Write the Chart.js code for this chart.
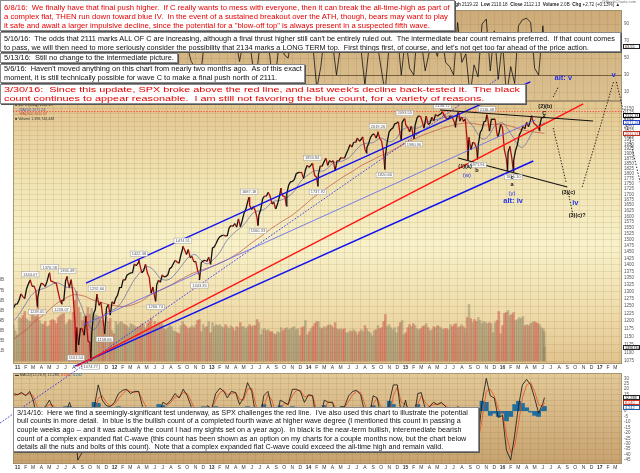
<!DOCTYPE html>
<html><head><meta charset="utf-8">
<title>$SPX daily with wave counts</title>
<script src="https://cdn.jsdelivr.net/npm/chart.js@4.4.1/dist/chart.umd.min.js"></script>
<style>
html,body{margin:0;padding:0;width:640px;height:473px;overflow:hidden;background:#fff;font-family:"Liberation Sans",Arial,sans-serif;}
canvas{position:absolute;left:0;top:0;width:640px;height:473px;}
.box{position:absolute;background:#fff;border:1px solid #8a8a8a;box-shadow:1px 1px 0 #555;box-sizing:border-box;padding:0 3px;overflow:hidden;color:#111;font-size:7px;}
.box .ln{white-space:pre;overflow:visible;}
.box .ln span{display:inline-block;vertical-align:top;transform-origin:0 50%;}
.red{color:#e40000;}
.tiny{position:absolute;white-space:pre;color:#333;line-height:1;}
.tag{position:absolute;left:623px;width:17px;height:5px;box-sizing:border-box;background:#fff;font-size:3.8px;line-height:4px;padding-left:1px;white-space:nowrap;overflow:hidden;border:0.6px solid #222;}
</style></head>
<body>
<canvas id="cRsi" width="640" height="473"></canvas>
<canvas id="cMacd" width="640" height="473"></canvas>
<canvas id="cPrice" width="640" height="473"></canvas>

<div class="tiny" style="right:4px;top:0px;font-size:4px;color:#777;">@StockCharts.com</div>
<div class="tiny" style="right:20px;top:3px;font-size:4.6px;color:#222;"><b>$SPX</b> S&amp;P 500 Large Cap Index  INDX   7-Jun-2016   <b>Open</b> 2110.18  <b>High</b> 2119.22  <b>Low</b> 2110.18  <b>Close</b> 2112.13  <b>Volume</b> 2.0B  <b>Chg</b> +2.72 (+0.13%) ▲</div>

<div class="tiny" style="left:15px;top:104.4px;font-size:3.6px;color:#222;">■ $SPX (Daily) 2112.13</div>
<div class="tiny" style="left:15px;top:108.8px;font-size:3.6px;color:#4a58a8;">— MA(50) 2071.24</div>
<div class="tiny" style="left:15px;top:113.3px;font-size:3.6px;color:#b84434;">— MA(200) 2011.57</div>
<div class="tiny" style="left:15px;top:117.8px;font-size:3.6px;color:#333;">■ Volume 1,396,744,448</div>
<div class="tiny" style="left:15px;top:374.2px;font-size:3.8px;color:#333;">▬ MACD(12,26,9) 12.283, <span style="color:#e04020">8.040</span>, <span style="color:#3070a0">4.242</span></div>

<div class="tag" style="top:43.6px;color:#222;">63.55</div>
<div class="tag" style="top:113px;color:#000;border-color:#000;">2112.13</div>
<div class="tag" style="top:120px;color:#2040c0;border-color:#2040c0;">2071.24</div>
<div class="tag" style="top:130.5px;color:#c03020;border-color:#c03020;">2011.57</div>
<div class="tag" style="top:345px;color:#000;">1396744448</div>
<div class="tag" style="top:395px;color:#000;">12.283</div>
<div class="tag" style="top:400px;color:#d03020;border-color:#d03020;">8.040</div>
<div class="tag" style="top:405px;color:#2060a0;border-color:#2060a0;">4.242</div>

<div class="box red" data-tw="446" style="left:0;top:0;width:455px;height:31px;padding-top:1.5px;line-height:9px;">
<div class="ln"><span>6/8/16:  We finally have that final push higher.  If C really wants to mess with everyone, then it can break the all-time-high as part of</span></div>
<div class="ln"><span>a complex flat, THEN run down toward blue IV.  In the event of a sustained breakout over the ATH, though, bears may want to play</span></div>
<div class="ln"><span>it safe and await a larger impulsive decline, since the potential for a "blow-off top" is always present in a suspected fifth wave.</span></div>
</div>
<div class="box" data-tw="612" style="left:0;top:32px;width:621px;height:20px;padding-top:0.5px;line-height:9px;">
<div class="ln"><span>5/16/16:  The odds that 2111 marks ALL OF C are increasing, although a final thrust higher still can't be entirely ruled out.  The intermediate bear count remains preferred.  If that count comes</span></div>
<div class="ln"><span>to pass, we will then need to more seriously consider the possibility that 2134 marks a LONG TERM top.  First things first, of course, and let's not get too far ahead of the price action.</span></div>
</div>
<div class="box" data-tw="170" style="left:0;top:53px;width:178px;height:10px;line-height:8.5px;">
<div class="ln"><span>5/13/16:  Still no change to the intermediate picture.</span></div>
</div>
<div class="box" data-tw="298" style="left:0;top:64px;width:305px;height:19px;line-height:8.7px;">
<div class="ln"><span>5/6/16:  Haven't moved anything on this chart from nearly two months ago.  As of this exact</span></div>
<div class="ln"><span>moment, it is still technically possible for wave C to make a final push north of 2111.</span></div>
</div>
<div class="box red" data-tw="516" data-fs="7.0" style="left:0;top:84px;width:526px;height:20px;padding-top:0.3px;line-height:9px;">
<div class="ln"><span>3/30/16:  Since this update, SPX broke above the red line, and last week's decline back-tested it.  The black</span></div>
<div class="ln"><span>count continues to appear reasonable.  I am still not favoring the blue count, for a variety of reasons.</span></div>
</div>
<div class="box" data-tw="452" style="left:13px;top:407px;width:466px;height:45px;padding-top:0.5px;line-height:8.7px;">
<div class="ln"><span>3/14/16:  Here we find a seemingly-significant test underway, as SPX challenges the red line.  I've also used this chart to illustrate the potential</span></div>
<div class="ln"><span>bull counts in more detail.  In blue is the bullish count of a completed fourth wave at higher wave degree (I mentioned this count in passing a</span></div>
<div class="ln"><span>couple weeks ago -- and it was actually the count I had my sights set on a year ago).  In black is the near-term bullish, interemediate bearish</span></div>
<div class="ln"><span>count of a complex expanded flat C-wave (this count has been shown as an option on my charts for a couple months now, but the chart below</span></div>
<div class="ln"><span>details all the nuts and bolts of this count).  Note that a complex expanded flat C-wave could exceed the all-time high and remain valid.</span></div>
</div>

<script>
// ---------------- DATA ----------------
const WEEK_START = '2010-12-17';           // weekly closes, one per Friday
const CLOSE_2010 = [1243.9, 1256.8, 1257.6];
const CLOSE_2011 = [1271.5,1293.2,1283.4,1276.3, 1310.9,1329.2,1343.0,1320.0, 1321.2,1304.3,1279.2,1313.8,
  1332.4,1328.2,1319.7,1337.4,1363.6, 1340.2,1337.8,1333.3,1331.1, 1300.2,1270.9,1271.5,1268.5,
  1339.7,1344.0,1316.1,1345.0,1292.3, 1199.4,1178.8,1123.5,1176.8, 1173.9,1154.2,1216.0,1136.4,1131.4,
  1155.5,1224.6,1238.3,1285.1, 1253.2,1263.9,1215.7,1158.7, 1244.3,1255.2,1219.7,1265.3,1257.6];
const CLOSE_2012 = [1277.8,1289.1,1315.4,1316.3, 1344.9,1342.6,1361.2,1365.7, 1369.6,1370.9,1404.2,1397.1,1408.5,
  1398.1,1370.3,1378.5,1403.4, 1369.1,1353.4,1295.2,1317.8, 1278.0,1325.7,1342.8,1335.0,1362.2,
  1354.7,1356.8,1362.7,1385.9, 1391.0,1405.9,1418.2,1411.1,1406.6, 1437.9,1465.8,1460.2,1440.7,
  1460.9,1428.6,1433.2,1411.9, 1414.2,1379.9,1359.9,1409.2,1416.2, 1418.1,1413.6,1430.2,1402.4];
const CLOSE_2013 = [1466.5,1472.1,1486.0,1503.0, 1513.2,1517.9,1519.8,1515.6, 1518.2,1551.2,1560.7,1556.9,1569.2,
  1553.3,1588.9,1555.3,1582.2, 1614.4,1633.7,1667.5,1649.6,1630.7, 1643.4,1626.7,1592.4,1606.3,
  1631.9,1680.2,1692.1,1691.7, 1709.7,1691.4,1655.8,1663.5,1633.0, 1655.2,1688.0,1709.9,1691.8,
  1690.5,1703.2,1744.5,1759.8, 1761.6,1770.6,1798.2,1804.8,1805.8, 1805.1,1775.3,1818.3,1841.4];
const CLOSE_2014 = [1831.4,1842.4,1838.7,1790.3,1782.6, 1797.0,1838.6,1836.3,1859.5, 1878.0,1841.1,1866.5,1857.6,
  1865.1,1815.7,1864.9,1863.4, 1881.1,1878.5,1877.9,1900.5,1923.6, 1949.4,1936.2,1962.9,1961.0,
  1985.4,1967.6,1978.2,1978.3, 1925.2,1931.6,1955.1,1988.4,2003.4, 2007.7,1985.5,2010.4,1982.9,
  1967.9,1906.1,1886.8,1964.6,2018.1, 2031.9,2039.8,2063.5,2067.6, 2075.4,2002.3,2070.7,2088.8];
const CLOSE_2015 = [2058.2,2044.8,2019.4,2051.8,1995.0, 2055.5,2097.0,2110.3,2104.5, 2071.3,2053.4,2108.1,2061.0,
  2067.0,2102.1,2081.2,2117.7, 2108.3,2116.1,2122.7,2126.1,2107.4, 2092.8,2094.1,2110.0,2101.5,
  2076.8,2076.6,2126.6,2079.7,2103.8, 2077.6,2091.5,1970.9,1988.9, 1921.2,1961.1,1958.0,1931.3,
  1951.4,2014.9,2033.1,2075.2,2079.4, 2099.2,2023.0,2089.2,2090.1, 2091.7,2012.4,2005.6,2061.0];
const CLOSE_2016 = [2043.9,1922.0,1880.3,1906.9,1940.2, 1880.1,1864.8,1917.8,1948.1, 2000.0,2022.2,2049.6,2035.9,
  2072.8,2047.6,2080.7,2091.6,2065.3, 2057.1,2046.6,2052.3,2099.1, 2099.1];
const LAST_DAYS = ['2016-06-06','2016-06-07'];
const LAST_CLOSES = [2109.4, 2112.13];
const LAST_VOLUMES = [2.9, 1.4];

// intraday extremes (highs / lows) marked on the chart
const EXTREME_DATES = ['2011-02-18','2011-03-16','2011-05-02','2011-06-16','2011-07-07','2011-08-09','2011-10-04',
  '2011-10-27','2011-11-25','2012-04-02','2012-06-04','2012-09-14','2012-11-16','2013-05-22','2013-06-24',
  '2013-09-19','2013-10-09','2014-01-15','2014-02-05','2014-04-11','2014-07-24','2014-08-07','2014-09-19',
  '2014-10-15','2014-12-16','2014-12-29','2015-02-02','2015-03-11','2015-05-20','2015-07-08','2015-07-20',
  '2015-08-24','2015-09-29','2015-11-03','2015-12-14','2016-01-20','2016-02-11','2016-04-20','2016-05-19'];
const EXTREME_VALUES = [1344.07,1249.05,1370.58,1258.07,1356.48,1101.54,1074.77,
  1292.66,1158.66,1422.38,1266.74,1474.51,1343.35,1687.18,1560.33,
  1729.86,1646.47,1850.84,1737.92,1814.36,1991.39,1904.78,2019.26,
  1820.66,1972.56,2093.55,1980.90,2039.69,2134.72,2044.02,2132.82,
  1867.01,1871.91,2116.48,1993.26,1812.29,1810.10,2111.05,2025.91];

// labelled price points
const NOTE_DATES = ['2011-02-18','2011-05-02','2011-07-07','2011-10-27','2012-04-02','2012-09-14','2013-05-22',
  '2014-01-15','2014-09-19','2014-12-29','2015-05-20','2015-11-03',
  '2011-03-16','2011-06-16','2011-08-09','2011-10-04','2011-11-25','2012-06-04','2012-11-16','2013-06-24',
  '2014-02-05','2014-10-15','2015-02-02','2015-09-29','2016-02-11'];
const NOTE_VALUES = [1344.07,1370.58,1356.48,1292.66,1422.38,1474.51,1687.18,
  1850.84,2019.26,2093.55,2134.72,2116.48,
  1249.05,1258.07,1101.54,1074.77,1158.66,1266.74,1343.35,1560.33,
  1737.92,1820.66,1980.90,1871.91,1810.10];
const NOTE_SIDE = ['up','up','up','up','up','up','up','up','up','up','up','up',
  'dn','dn','dn','dn','dn','dn','dn','dn','dn','dn','dn','dn','dn'];

// weekly average daily volume (billions of shares)
const VOL_2010 = [3.6,3.0,2.6];
const VOL_2011 = [4.3,4.2,4.5,4.9, 4.2,4.0,3.9,4.6, 4.5,4.4,5.3,4.0, 3.7,3.6,3.9,3.4,3.5, 4.0,4.1,4.0,3.7,
  4.3,4.5,4.6,4.7, 3.6,3.8,4.1,4.0,4.8, 6.0,6.9,5.3,4.8, 4.0,4.4,4.6,5.3,4.6, 5.2,4.4,4.6,4.5,
  4.4,4.0,4.0,3.2, 4.3,3.9,4.2,3.0,2.7];
const VOL_2012 = [3.9,3.6,3.8,3.9, 3.7,3.6,3.5,3.3, 3.7,3.6,3.5,3.3,3.4, 3.4,3.7,3.6,3.3, 3.7,3.9,4.2,3.3,
  3.9,3.6,3.8,3.6,3.7, 3.2,3.1,3.3,3.5, 3.4,3.0,2.9,2.8,2.7, 3.5,3.9,3.6,3.4, 3.2,3.3,3.5,3.3,
  3.6,4.0,4.1,2.9,3.6, 3.3,3.4,3.9,2.8];
const VOL_2013 = [3.8,3.4,3.6,3.5, 3.6,3.4,3.3,3.6, 3.4,3.2,3.5,3.3,3.0, 3.4,3.3,3.8,3.4, 3.4,3.2,3.4,3.6,3.4,
  3.5,3.5,4.1,3.8, 2.6,3.1,3.2,3.0, 3.1,2.9,2.9,2.7,2.6, 2.9,2.8,3.3,3.0, 3.2,3.3,3.1,3.2,
  3.3,3.4,3.1,3.2,2.5, 3.3,3.4,4.0,2.6];
const VOL_2014 = [2.9,3.2,3.4,3.7,3.9, 3.9,3.3,3.2,3.4, 3.3,3.5,3.6,3.5, 3.3,3.8,3.2,3.1, 3.2,3.1,3.2,2.8,2.8,
  3.0,2.9,3.1,2.9, 2.6,2.9,3.1,2.9, 3.5,3.2,2.9,2.8,2.5, 3.0,3.1,3.5,3.2, 3.3,3.9,4.6,3.4,3.6,
  3.3,3.1,3.3,2.8, 3.4,3.8,4.0,2.6];
const VOL_2015 = [2.8,3.3,3.6,3.4,3.7, 3.5,3.2,3.1,3.2, 3.4,3.5,3.7,3.3, 3.0,3.1,3.4,3.3, 3.5,3.4,3.3,3.1,3.2,
  3.2,3.1,3.6,3.4, 3.6,3.7,3.3,3.4,3.6, 3.4,3.2,4.3,5.6, 4.2,3.8,4.1,3.9, 4.3,4.0,3.7,3.9,3.8,
  3.7,3.8,3.7,2.8, 3.8,4.0,4.9,2.7];
const VOL_2016 = [3.5,4.7,4.8,5.0,4.5, 4.6,4.8,4.0,4.1, 4.3,4.2,4.4,3.5, 3.6,3.5,3.7,3.8,3.9, 3.8,3.7,3.6,3.3, 3.2];

// indicators sampled on the 1st and 16th of each month (first: 2010-12-16, last: 2016-06-07)
const MA50_START = 1200;
const MA50_2011 = [1215,1235,1258,1280,1295,1305,1310,1315,1322,1330,1333,1327,1318,1315,1315,1280,1245,1205,1180,1172,1190,1215,1227,1235];
const MA50_2012 = [1240,1250,1270,1295,1320,1345,1365,1382,1393,1390,1375,1355,1345,1343,1350,1365,1385,1405,1425,1437,1440,1425,1410,1405];
const MA50_2013 = [1415,1430,1450,1478,1500,1518,1535,1548,1562,1585,1610,1622,1625,1630,1645,1665,1670,1672,1680,1690,1705,1730,1760,1780];
const MA50_2014 = [1795,1810,1815,1812,1815,1830,1850,1858,1860,1868,1880,1900,1925,1945,1955,1958,1960,1975,1985,1975,1965,1970,1990,2025];
const MA50_2015 = [2040,2045,2040,2040,2050,2068,2080,2085,2090,2095,2105,2110,2110,2105,2100,2097,2070,2040,2005,1980,1985,2010,2050,2065];
const MA50_2016 = [2070,2045,2010,1975,1945,1935,1960,2000,2035,2055,2065,2071.24];

const MA200_START = 1140;
const MA200_2011 = [1150,1160,1170,1182,1195,1205,1215,1225,1238,1250,1262,1270,1278,1285,1290,1290,1287,1283,1276,1270,1266,1262,1258,1254];
const MA200_2012 = [1252,1250,1249,1250,1253,1257,1263,1270,1280,1290,1297,1303,1310,1317,1325,1334,1343,1350,1359,1366,1372,1378,1383,1388];
const MA200_2013 = [1394,1400,1407,1414,1421,1430,1440,1450,1462,1475,1488,1500,1511,1524,1537,1550,1561,1573,1584,1594,1606,1620,1635,1650];
const MA200_2014 = [1667,1683,1697,1710,1722,1735,1749,1762,1775,1788,1800,1812,1825,1838,1850,1860,1870,1882,1892,1900,1910,1922,1933,1945];
const MA200_2015 = [1958,1968,1978,1988,1997,2006,2014,2022,2030,2038,2045,2051,2057,2062,2066,2069,2068,2065,2061,2058,2058,2060,2061,2062];
const MA200_2016 = [2062,2057,2051,2044,2036,2030,2025,2021,2018,2015,2012,2011.57];

// upper oscillator panel
const OSC_START = 70;
const OSC_2011 = [72,80,64,90,58,28,72,50,80,46,38,18,78,54,8,14,46,54,18,68,85,38,68,55];
const OSC_2012 = [64,85,82,90,72,92,85,40,54,12,20,64,68,60,72,76,58,85,64,46,38,16,60,64];
const OSC_2013 = [72,90,85,72,64,82,72,46,72,92,50,22,64,80,72,30,35,80,54,50,80,84,72,68];
const OSC_2014 = [76,68,14,40,76,64,68,30,64,62,82,76,80,64,18,62,80,68,38,10,68,84,80,30];
const OSC_2015 = [75,38,30,88,70,35,58,66,52,78,45,40,30,92,45,55,6,42,28,90,96,35,82,25];
const OSC_2016 = [70,6,40,20,88,95,97,92,38,30,88,63.55];

const MACD_START = 16;
const MACD_2011 = [15,17,14,18,10,-8,2,4,10,2,-4,-18,-2,8,-5,-45,-38,-28,-30,2,24,10,5,4];
const MACD_2012 = [8,16,19,20,16,18,18,4,0,-18,-25,-5,8,6,10,16,12,20,14,4,-6,-20,-4,5];
const MACD_2013 = [2,16,21,18,12,18,17,6,12,26,18,-4,-10,14,18,2,-10,10,8,6,20,20,18,8];
const MACD_2014 = [15,14,-12,-6,10,8,8,-6,4,4,14,18,19,15,-2,-6,14,12,-6,-30,8,24,24,-4];
const MACD_2015 = [10,-6,-8,16,17,2,4,8,6,8,4,0,-6,4,2,-4,-38,-32,-26,8,30,14,12,-6];
const MACD_2016 = [-4,-36,-45,-22,4,24,29,24,12,-2,7,12.283];

const SIGNAL_START = 14;
const SIGNAL_2011 = [15,16,15,16,14,4,0,3,6,5,0,-10,-8,2,0,-28,-38,-32,-30,-12,12,14,8,5];
const SIGNAL_2012 = [6,11,16,19,18,17,18,10,3,-8,-20,-14,0,5,8,13,13,17,16,9,0,-13,-10,0];
const SIGNAL_2013 = [2,10,17,19,15,16,17,11,10,20,21,6,-6,4,15,10,-3,2,7,6,14,19,19,13];
const SIGNAL_2014 = [14,14,0,-8,3,8,8,1,1,3,9,15,18,17,6,-4,6,12,4,-18,-8,14,22,8];
const SIGNAL_2015 = [6,2,-5,6,14,8,4,6,6,7,5,2,-3,0,2,-1,-24,-32,-28,-8,18,20,14,2];
const SIGNAL_2016 = [-2,-22,-38,-32,-12,12,24,26,18,6,4,8.04];

const HIST_START = 1;
const HIST_2011 = [0,1,-1,2,-3,-7,2,1,3,-2,-3,-5,4,4,-3,-9,0,3,0,8,7,-3,-2,-1];
const HIST_2012 = [2,4,2,1,-1,1,0,-4,-2,-6,-4,6,5,1,2,2,-1,2,-1,-3,-4,-5,4,3];
const HIST_2013 = [0,4,3,-1,-2,1,0,-3,2,4,-2,-6,-3,6,2,-5,-4,5,1,0,4,1,-1,-3];
const HIST_2014 = [1,0,-7,1,5,0,0,-5,2,1,3,2,1,-1,-5,-1,5,0,-6,-7,9,6,1,-7];
const HIST_2015 = [3,-5,-2,6,2,-4,0,1,0,1,-1,-1,-2,3,0,-2,-8,0,1,9,8,-4,-2,-5];
const HIST_2016 = [-2,-9,-5,6,9,7,3,-1,-4,-5,2,4.242];

// tick labels
const MONTH_LETTERS = ['J','F','M','A','M','J','J','A','S','O','N','D'];
const PRICE_TICKS = [2150,2125,2100,2075,2050,2025,2000,1975,1950,1925,1900,1875,1850,1825,1800,1775,1750,1725,1700,
  1675,1650,1625,1600,1575,1550,1525,1500,1475,1450,1425,1400,1375,1350,1325,1300,1275,1250,1225,1200,1175,1150,1125,1100,1075];
const VOLUME_TICKS = [1,2,3,4,5,6,7,8];
const VOLUME_TICK_LABELS = ['1B','2B','3B','4B','5B','6B','7B','8B'];
const OSC_TICKS = [90,70,50,30,10];
const MACD_TICKS = [30,25,20,15,10,5,0,-5,-10,-15,-20,-25,-30,-35,-40,-45];

// annotations (date, price)
const ATH_LEVEL = 2134.72;
const TREND_LINES = [
  {kind:'blueSolid',  from:['2011-09-16',1332],   to:['2016-04-15',2315.8]},
  {kind:'blueDotted', from:['2010-10-27',906.5],  to:['2015-12-23',2347.8]},
  {kind:'blueThin',   from:['2011-09-05',1187],   to:['2016-05-04',2086]},
  {kind:'blueSolid',  from:['2011-08-06',1060.4], to:['2016-04-26',1863.5]},
  {kind:'red',        from:['2011-08-13',1060.4], to:['2016-10-31',2179.8]},
  {kind:'black',      from:['2015-05-11',2144.1], to:['2016-12-07',2080.2]},
  {kind:'black',      from:['2015-07-18',1878.9], to:['2016-09-01',1734.8]},
  {kind:'path',       from:['2016-07-10',2040.5], to:['2016-08-28',1754.2]},
  {kind:'path',       from:['2016-10-27',1734.8], to:['2017-02-22',2315.8]},
  {kind:'path',       from:['2017-03-05',2315.8], to:['2017-06-03',1754.2]},
  {kind:'path',       from:['2016-09-05',1706.5], to:['2016-09-20',1619.6]},
  {kind:'path',       from:['2016-07-10',2222.1], to:['2016-07-29',2284.1]}
];
const WAVE_LABELS = [
  ['iii','2015-05-19',2191.8,'blueBig'], ['(x)','2015-11-04',2240.5,'blueSmall'],
  ['alt: v','2016-08-17',2341.4,'blueBig'], ['v','2017-02-22',2360.8,'blueBig'],
  ['(2)(b)','2016-06-10',2167.8,'black'], ['C','2016-06-06',2126.5,'black'],
  ['(1)(a)','2015-08-13',1838,'black'], ['b','2015-09-27',1818,'black'], ['(w)','2015-08-20',1793,'blueSmall'],
  ['c','2016-02-06',1783,'black'], ['a','2016-02-06',1749,'black'], ['(y)','2016-02-06',1706.5,'blueSmall'],
  ['alt: iv','2016-02-10',1669.5,'blueBig'], ['(3)(c)','2016-09-05',1711,'black'],
  ['iv','2016-10-01',1660,'blueBig'], ['(3)(c)?','2016-10-08',1606,'black']
];

// ---------------- STYLES ----------------
const LINE_STYLES = {
  blueSolid:{color:'#1212f0',width:1.4,dash:[]},
  blueDotted:{color:'#2a2af5',width:0.9,dash:[1.6,1.6]},
  blueThin:{color:'#5a62f2',width:0.8,dash:[]},
  red:{color:'#ff1414',width:1.4,dash:[]},
  black:{color:'#111',width:1.2,dash:[]},
  path:{color:'#111',width:0.9,dash:[1.4,1.6]},
  ath:{color:'#ff2a2a',width:0.8,dash:[1.4,1.4]}
};
const LABEL_STYLES = {
  blueBig:{font:'bold 7.5px "Liberation Sans", Arial',color:'#2233ee'},
  blueSmall:{font:'6px "Liberation Sans", Arial',color:'#2233ee'},
  black:{font:'bold 5.5px "Liberation Sans", Arial',color:'#111'}
};
const GRID = 'rgba(120,90,40,0.2)';

// ---------------- BUILD ----------------
Chart.defaults.font.family = '"Liberation Sans", Arial, sans-serif';
const DAY = 86400000;
const T = s => Date.UTC(+s.slice(0,4), +s.slice(5,7)-1, +s.slice(8,10));
const X_MIN = T('2010-12-15'), X_MAX = T('2017-03-26');

const WEEKLY_CLOSE = [...CLOSE_2010,...CLOSE_2011,...CLOSE_2012,...CLOSE_2013,...CLOSE_2014,...CLOSE_2015,...CLOSE_2016];
const WEEKLY_VOL = [...VOL_2010,...VOL_2011,...VOL_2012,...VOL_2013,...VOL_2014,...VOL_2015,...VOL_2016];
const W0 = T(WEEK_START);
const weekX = WEEKLY_CLOSE.map((v,i)=>W0 + i*7*DAY);

const pricePts = WEEKLY_CLOSE.map((v,i)=>({x:weekX[i], y:v}));
LAST_DAYS.forEach((d,i)=>pricePts.push({x:T(d), y:LAST_CLOSES[i]}));
EXTREME_DATES.forEach((d,i)=>pricePts.push({x:T(d), y:EXTREME_VALUES[i]}));
pricePts.sort((a,b)=>a.x-b.x);

const allCloses = [...WEEKLY_CLOSE, ...LAST_CLOSES];
const allVolX = [...weekX, ...LAST_DAYS.map(T)];
const allVol = [...WEEKLY_VOL, ...LAST_VOLUMES];
const volPts = allVol.map((v,i)=>({x:allVolX[i], y:v}));
const volColors = allVol.map((v,i)=> (i>0 && allCloses[i] < allCloses[i-1]) ? 'rgba(200,82,70,0.5)' : 'rgba(128,122,92,0.42)');

const HALF_DATES = ['2010-12-16'];
for (let y=2011; y<=2016; y++) {
  for (let m=1; m<=12; m++) {
    const mm = String(m).padStart(2,'0');
    HALF_DATES.push(y+'-'+mm+'-01');
    if (y===2016 && m===6) break;
    HALF_DATES.push(y+'-'+mm+'-16');
  }
}
HALF_DATES.push('2016-06-07');
const HX = HALF_DATES.map(T);
const series = arr => arr.map((v,i)=>({x:HX[i], y:v}));
const MA50 = [MA50_START,...MA50_2011,...MA50_2012,...MA50_2013,...MA50_2014,...MA50_2015,...MA50_2016];
const MA200 = [MA200_START,...MA200_2011,...MA200_2012,...MA200_2013,...MA200_2014,...MA200_2015,...MA200_2016];
const OSC = [OSC_START,...OSC_2011,...OSC_2012,...OSC_2013,...OSC_2014,...OSC_2015,...OSC_2016];
const MACD = [MACD_START,...MACD_2011,...MACD_2012,...MACD_2013,...MACD_2014,...MACD_2015,...MACD_2016];
const SIGNAL = [SIGNAL_START,...SIGNAL_2011,...SIGNAL_2012,...SIGNAL_2013,...SIGNAL_2014,...SIGNAL_2015,...SIGNAL_2016];
const HIST = [HIST_START,...HIST_2011,...HIST_2012,...HIST_2013,...HIST_2014,...HIST_2015,...HIST_2016];

const MONTH_TICKS = [], MONTH_LABELS = [];
for (let y=2011; y<=2017; y++) for (let m=0; m<12; m++) {
  if (y===2017 && m>2) break;
  MONTH_TICKS.push(Date.UTC(y,m,1));
  MONTH_LABELS.push(m===0 ? String(y).slice(2) : MONTH_LETTERS[m]);
}

function xAxis(show, h){
  return {type:'linear', min:X_MIN, max:X_MAX, bounds:'data', offset:false,
    afterBuildTicks: s => { s.ticks = MONTH_TICKS.map(v=>({value:v})); },
    afterFit: s => { s.height = h; },
    grid:{color:GRID, lineWidth:0.6, drawTicks:false}, border:{display:false},
    ticks:{display:show, autoSkip:false, maxRotation:0, minRotation:0, padding:1, color:'#333',
      font: c => ({size:5, weight: ((MONTH_LABELS[c.index]||'').length===2 ? 'bold' : 'normal')}),
      callback:(v,i)=>MONTH_LABELS[i]}};
}
function rightAxis(type, min, max, ticks, gridOpts){
  return {type, position:'right', min, max, bounds:'data',
    afterBuildTicks: s => { s.ticks = ticks.map(v=>({value:v})); },
    afterFit: s => { s.width = 18; },
    grid: Object.assign({color:GRID, lineWidth:0.6, drawTicks:false}, gridOpts||{}), border:{display:false},
    ticks:{autoSkip:false, padding:2, color:'#555', font:{size:4.5}, callback:v=>String(v)}};
}
function bgPlugin(stops){
  return {id:'bg',
    beforeDraw(chart){ const {ctx, chartArea:a} = chart; const g = ctx.createLinearGradient(0,a.top,0,a.bottom);
      stops.forEach(s=>g.addColorStop(s[0], s[1])); ctx.save(); ctx.fillStyle = g;
      ctx.fillRect(a.left, a.top, a.right-a.left, a.bottom-a.top); ctx.restore(); },
    afterDatasetsDraw(chart){ const {ctx, chartArea:a} = chart; ctx.save(); ctx.strokeStyle='#9a8a6a'; ctx.lineWidth=0.8;
      ctx.strokeRect(a.left+0.4, a.top+0.4, a.right-a.left-0.8, a.bottom-a.top-0.8); ctx.restore(); }};
}
const common = {responsive:false, animation:false, events:[], plugins:{legend:{display:false}, tooltip:{enabled:false}}};

// upper oscillator panel
new Chart(document.getElementById('cRsi'), {
  type:'line',
  data:{datasets:[{label:'Oscillator', data:series(OSC), borderColor:'#111', borderWidth:0.8, pointRadius:0, tension:0}]},
  options: Object.assign({}, common, {
    layout:{autoPadding:false, padding:{left:13, right:0, top:10, bottom:372}},
    scales:{
      x: xAxis(false, 0),
      y: rightAxis('linear', -0.5, 106.6, OSC_TICKS, {
        color: c => (c.tick && (c.tick.value===30 || c.tick.value===70)) ? 'rgba(95,75,45,0.8)' : GRID,
        lineWidth: c => (c.tick && (c.tick.value===30 || c.tick.value===70)) ? 1 : 0.6})
    }}),
  plugins:[bgPlugin([[0,'#cdab79'],[1,'#dcc191']])]
});

// MACD panel
new Chart(document.getElementById('cMacd'), {
  type:'line',
  data:{datasets:[
    {type:'line', label:'MACD', data:series(MACD), borderColor:'#111', borderWidth:0.8, pointRadius:0, tension:0, order:1},
    {type:'line', label:'Signal', data:series(SIGNAL), borderColor:'#ec4a22', borderWidth:0.8, pointRadius:0, tension:0, order:2},
    {type:'bar', label:'Histogram', data:series(HIST), backgroundColor:'#1f6e9d', barThickness:4.1, order:3}
  ]},
  options: Object.assign({}, common, {
    layout:{autoPadding:false, padding:{left:13, right:0, top:373, bottom:0}},
    scales:{ x: xAxis(true, 9), y: rightAxis('linear', -48.6, 34.9, MACD_TICKS) }}),
  plugins:[bgPlugin([[0,'#e3c998'],[1,'#c7a26f']])]
});

// Price panel with annotations
const annotPlugin = {id:'annot', afterDraw(chart){
  const {ctx} = chart; const xs = chart.scales.x, ys = chart.scales.y;
  const px = d => xs.getPixelForValue(T(d)), py = p => ys.getPixelForValue(p);
  ctx.save();
  const a = LINE_STYLES.ath; ctx.strokeStyle=a.color; ctx.lineWidth=a.width; ctx.setLineDash(a.dash);
  ctx.beginPath(); ctx.moveTo(chart.chartArea.left, py(ATH_LEVEL)); ctx.lineTo(chart.chartArea.right, py(ATH_LEVEL)); ctx.stroke();
  TREND_LINES.forEach(l=>{ const st = LINE_STYLES[l.kind]; ctx.strokeStyle=st.color; ctx.lineWidth=st.width; ctx.setLineDash(st.dash);
    ctx.beginPath(); ctx.moveTo(px(l.from[0]), py(l.from[1])); ctx.lineTo(px(l.to[0]), py(l.to[1])); ctx.stroke(); });
  ctx.setLineDash([]);
  ctx.font = '4px "Liberation Sans", Arial'; ctx.textAlign='center'; ctx.textBaseline='middle';
  NOTE_DATES.forEach((d,i)=>{
    const x = px(d), y = py(NOTE_VALUES[i]) + (NOTE_SIDE[i]==='up' ? -5.5 : 5.5);
    const t = NOTE_VALUES[i].toFixed(2); const w = ctx.measureText(t).width + 3;
    ctx.fillStyle='rgba(255,255,255,0.95)'; ctx.fillRect(x-w/2, y-2.6, w, 5.2);
    ctx.strokeStyle='#9a9a9a'; ctx.lineWidth=0.5; ctx.strokeRect(x-w/2, y-2.6, w, 5.2);
    ctx.fillStyle='#555'; ctx.fillText(t, x, y+0.2);
  });
  WAVE_LABELS.forEach(l=>{ const st = LABEL_STYLES[l[3]]; ctx.font = st.font; ctx.fillStyle = st.color; ctx.fillText(l[0], px(l[1]), py(l[2])); });
  ctx.restore();
}};

new Chart(document.getElementById('cPrice'), {
  type:'line',
  data:{datasets:[
    {type:'line', label:'$SPX', data:pricePts, borderColor:'#111', borderWidth:1.3, pointRadius:0, tension:0, yAxisID:'y', order:1,
      segment:{borderColor: c => c.p1.parsed.y < c.p0.parsed.y ? '#b40f0f' : '#111'}},
    {type:'line', label:'MA(50)', data:series(MA50), borderColor:'#5a64a8', borderWidth:0.7, pointRadius:0, tension:0.35, yAxisID:'y', order:2},
    {type:'line', label:'MA(200)', data:series(MA200), borderColor:'#c0503c', borderWidth:0.7, pointRadius:0, tension:0.35, yAxisID:'y', order:3},
    {type:'bar', label:'Volume', data:volPts, backgroundColor:volColors, barThickness:1.9, yAxisID:'yv', order:4}
  ]},
  options: Object.assign({}, common, {
    layout:{autoPadding:false, padding:{left:0, right:0, top:101, bottom:101}},
    scales:{
      x: xAxis(true, 8),
      y: rightAxis('logarithmic', 1066.3, 2197.8, PRICE_TICKS),
      yv: {type:'linear', position:'left', min:-0.3, max:25.74, bounds:'data',
        afterBuildTicks: s => { s.ticks = VOLUME_TICKS.map(v=>({value:v})); },
        afterFit: s => { s.width = 13; },
        grid:{display:false}, border:{display:false},
        ticks:{autoSkip:false, padding:1, color:'#555', font:{size:4.5}, callback:(v,i)=>VOLUME_TICK_LABELS[i]}}
    }}),
  plugins:[bgPlugin([[0,'#e2c58f'],[0.3,'#f1e3b2'],[0.55,'#f8f1c9'],[0.8,'#efdcab'],[1,'#e1c38e']]), annotPlugin]
});

// fit text boxes to their widths (font size, or horizontal stretch when a size is given)
document.querySelectorAll('.box').forEach(b=>{
  const spans = [...b.querySelectorAll('.ln span')];
  const target = +b.dataset.tw;
  if (b.dataset.fs) {
    b.style.fontSize = b.dataset.fs + 'px';
    const w = Math.max(...spans.map(s=>s.getBoundingClientRect().width));
    const k = target / w;
    spans.forEach(s=>{ s.style.transform = 'scaleX(' + k.toFixed(3) + ')'; });
  } else {
    b.style.fontSize = '8px';
    const w = Math.max(...spans.map(s=>s.getBoundingClientRect().width));
    b.style.fontSize = (8 * target / w).toFixed(3) + 'px';
  }
});
</script>
</body></html>
